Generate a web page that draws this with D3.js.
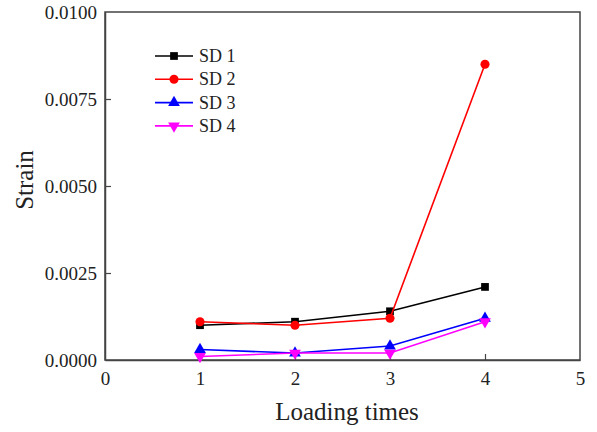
<!DOCTYPE html>
<html>
<head>
<meta charset="utf-8">
<script src="https://cdn.jsdelivr.net/npm/d3@7"></script>
<style>
  body { margin: 0; background: #fff; }
  svg { display: block; font-family: "Liberation Serif", "Times New Roman", serif; }
  svg text { font-family: "Liberation Serif", "Times New Roman", serif; }
</style>
</head>
<body>
<svg></svg>
<script>
// data
const loadingTimes = [1, 2, 3, 4];
const sd1 = [0.0010, 0.0011, 0.0014, 0.0021];
const sd2 = [0.0011, 0.0010, 0.0012, 0.0085];
const sd3 = [0.0003, 0.0002, 0.0004, 0.0012];
const sd4 = [0.0001, 0.0002, 0.0002, 0.0011];
const seriesNames = ["SD 1", "SD 2", "SD 3", "SD 4"];
const xTicks = [0, 1, 2, 3, 4, 5];
const yTicks = [0, 0.0025, 0.005, 0.0075, 0.01];

let width = 597;
let height = 432;
const svg = d3.select("svg").attr("width", width).attr("height", height);

let margin = { left: 105, top: 12, right: 17, bottom: 72 };

let x = d3.scaleLinear().domain([0, 5]).range([margin.left, width - margin.right]);
let y = d3.scaleLinear().domain([0, 0.01]).range([height - margin.bottom, margin.top]);

const series = [
    { name: seriesNames[0], values: sd1, color: "#000000", symbol: d3.symbolSquare, size: 60, rot: 0 },
    { name: seriesNames[1], values: sd2, color: "#ff0000", symbol: d3.symbolCircle, size: 65, rot: 0 },
    { name: seriesNames[2], values: sd3, color: "#0000ff", symbol: d3.symbolTriangle, size: 60, rot: 0 },
    { name: seriesNames[3], values: sd4, color: "#ff00ff", symbol: d3.symbolTriangle, size: 60, rot: 180 }
];

// frame
svg.append("rect")
    .attr("x", x(0))
    .attr("y", y(0.01))
    .attr("width", x(5) - x(0))
    .attr("height", y(0) - y(0.01))
    .attr("fill", "none")
    .attr("stroke", "#444")
    .attr("stroke-width", 1.5);

// axes, ticks pointing inward
let xAxis = svg.append("g")
    .attr("transform", "translate(0," + y(0) + ")")
    .call(d3.axisBottom(x).tickValues(xTicks).tickFormat(d3.format("d")).tickSizeInner(-6).tickSizeOuter(0).tickPadding(12));
let yAxis = svg.append("g")
    .attr("transform", "translate(" + x(0) + ",0)")
    .call(d3.axisLeft(y).tickValues(yTicks).tickFormat(d3.format(".4f")).tickSizeInner(-6).tickSizeOuter(0).tickPadding(8));

[xAxis, yAxis].forEach(function (a) {
    a.attr("font-family", null).attr("font-size", 19);
    a.select(".domain").attr("stroke", "#444").attr("stroke-width", 1.5);
    a.selectAll(".tick line").attr("stroke", "#444").attr("stroke-width", 1.2);
    a.selectAll(".tick text").attr("fill", "#222");
});
// no inner tick at the corners
xAxis.selectAll(".tick").filter(function (d) { return d === 0 || d === 5; }).select("line").remove();
yAxis.selectAll(".tick").filter(function (d) { return d === 0 || d === 0.01; }).select("line").remove();

// axis titles
svg.append("text")
    .attr("x", 347)
    .attr("y", 420)
    .attr("text-anchor", "middle")
    .attr("fill", "#222")
    .style("font-size", "25px")
    .text("Loading times");

svg.append("text")
    .attr("transform", "translate(33,180) rotate(-90)")
    .attr("text-anchor", "middle")
    .attr("fill", "#222")
    .style("font-size", "25px")
    .text("Strain");

// lines + markers
let line = d3.line()
    .x(function (d, i) { return x(loadingTimes[i]); })
    .y(function (d) { return y(d); });

series.forEach(function (s) {
    svg.append("path")
        .datum(s.values)
        .attr("d", line)
        .attr("fill", "none")
        .attr("stroke", s.color)
        .attr("stroke-width", 1.6);

    svg.selectAll(null)
        .data(s.values)
        .enter()
        .append("path")
        .attr("d", d3.symbol().type(s.symbol).size(s.size))
        .attr("transform", function (d, i) {
            return "translate(" + x(loadingTimes[i]) + "," + y(d) + ") rotate(" + s.rot + ")";
        })
        .attr("fill", s.color);
});

// legend
let legend = svg.append("g").attr("transform", "translate(155,56)");
series.forEach(function (s, i) {
    let g = legend.append("g").attr("transform", "translate(0," + i * 23.3 + ")");
    g.append("line")
        .attr("x1", 0).attr("x2", 38)
        .attr("stroke", s.color)
        .attr("stroke-width", 1.6);
    g.append("path")
        .attr("d", d3.symbol().type(s.symbol).size(s.size))
        .attr("transform", "translate(19,0) rotate(" + s.rot + ")")
        .attr("fill", s.color);
    g.append("text")
        .attr("x", 44)
        .attr("y", 6)
        .attr("fill", "#222")
        .style("font-size", "18px")
        .text(s.name);
});
</script>
</body>
</html>
